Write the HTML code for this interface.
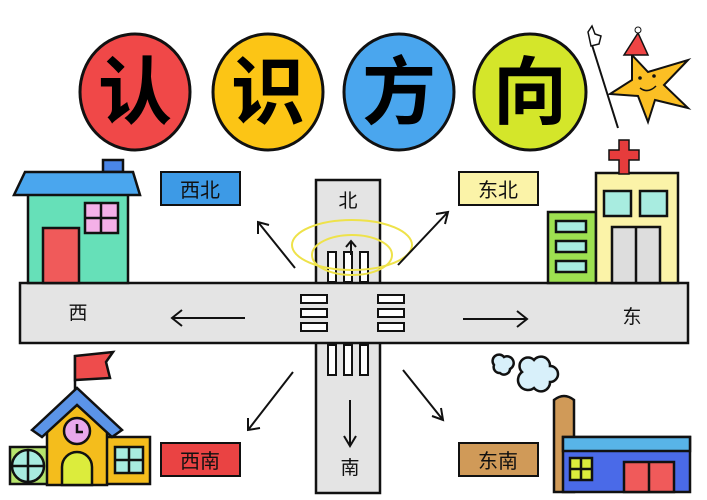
<!DOCTYPE html>
<html><head><meta charset="utf-8"><style>
html,body{margin:0;padding:0;background:#fff}
svg{display:block}
text{font-family:"Liberation Sans","Noto Sans CJK SC",sans-serif}
</style></head><body>
<svg width="707" height="500" viewBox="0 0 707 500" xmlns="http://www.w3.org/2000/svg">
<g stroke="#111" stroke-width="3">
<ellipse cx="135" cy="92" rx="55" ry="58" fill="#f04848"/>
<ellipse cx="268" cy="92" rx="55" ry="58" fill="#fcc515"/>
<ellipse cx="399" cy="92" rx="55" ry="58" fill="#4aa6ee"/>
<ellipse cx="530" cy="92" rx="56" ry="58" fill="#d4e62a"/>
</g>
<g font-size="74" font-weight="bold" text-anchor="middle" fill="#000" style="font-family:'Noto Serif CJK SC','Noto Sans CJK SC',serif">
<text x="135" y="118">认</text><text x="268" y="118">识</text><text x="399" y="118">方</text><text x="530" y="118">向</text>
</g>
<!-- star -->
<line x1="592" y1="45" x2="618" y2="128" stroke="#111" stroke-width="2"/>
<path d="M588 32 l4 -6 l3 8 l6 2 l-2 8 l-8 2 z" fill="#fff" stroke="#111" stroke-width="1.5"/>
<path d="M632 55 L648 72 L688 60 L664 85 L688 108 L655 100 L648 122 L638 96 L610 94 L632 80 Z" fill="#fbbf24" stroke="#111" stroke-width="2"/>
<path d="M624 55 L638 33 L648 55 Z" fill="#ef4444" stroke="#111" stroke-width="1.5"/>
<circle cx="638" cy="30" r="3" fill="#fff" stroke="#111"/>
<circle cx="640" cy="78" r="1.8" fill="#111"/><circle cx="654" cy="76" r="1.8" fill="#111"/>
<path d="M640 88 q8 6 16 -2" fill="none" stroke="#111" stroke-width="1.5"/>
<!-- roads -->
<rect x="316" y="180" width="64" height="313" fill="#e4e4e4" stroke="#111" stroke-width="2.5"/>
<rect x="20" y="283" width="668" height="60" fill="#e4e4e4" stroke="#111" stroke-width="2.5"/>
<rect x="317.5" y="284.5" width="61" height="57" fill="#e4e4e4"/>
<g fill="#fff" stroke="#111" stroke-width="2">
<rect x="301" y="295" width="26" height="8"/><rect x="301" y="309" width="26" height="8"/><rect x="301" y="323" width="26" height="8"/>
<rect x="378" y="295" width="26" height="8"/><rect x="378" y="309" width="26" height="8"/><rect x="378" y="323" width="26" height="8"/>
<rect x="328" y="345" width="8" height="30"/><rect x="344" y="345" width="8" height="30"/><rect x="360" y="345" width="8" height="30"/>
<rect x="328" y="252" width="8" height="30"/><rect x="344" y="252" width="8" height="30"/><rect x="360" y="252" width="8" height="30"/>
</g>
<g fill="none" stroke="#eee24a" stroke-width="2">
<ellipse cx="352" cy="245" rx="60" ry="25"/><ellipse cx="352" cy="255" rx="40" ry="20"/>
</g>
<g font-size="19" fill="#111" text-anchor="middle">
<text x="78" y="319">西</text><text x="632" y="323">东</text><text x="348" y="207">北</text><text x="350" y="474">南</text>
</g>
<g stroke="#111" stroke-width="2" fill="none">
<path d="M245 318 H172 M182 310 L172 318 L182 326"/>
<path d="M463 319 H527 M517 311 L527 319 L517 327"/>
<path d="M351 255 V242 M346 247 L351 241 L356 247"/>
<path d="M350 400 V445 M344 436 L350 446 L356 436"/>
<path d="M295 268 L258 222 M258 234 L258 222 L269 225"/>
<path d="M398 265 L448 212 M436 214 L448 212 L445 224"/>
<path d="M293 372 L248 430 M248 418 L248 430 L260 428"/>
<path d="M403 370 L443 420 M441 408 L443 420 L432 416"/>
</g>
<!-- labels -->
<g stroke="#111" stroke-width="2">
<rect x="161" y="172" width="79" height="33" fill="#3d9ae6"/>
<rect x="459" y="172" width="79" height="33" fill="#fbf3a8"/>
<rect x="161" y="443" width="79" height="33" fill="#ea4343"/>
<rect x="459" y="443" width="79" height="33" fill="#d09a58"/>
</g>
<g font-size="20" fill="#111" text-anchor="middle">
<text x="200" y="197">西北</text><text x="498" y="197">东北</text><text x="200" y="468">西南</text><text x="498" y="468">东南</text>
</g>
<!-- left house -->
<g stroke="#111" stroke-width="2.5">
<rect x="103" y="160" width="20" height="12" fill="#4a86e8"/>
<rect x="28" y="193" width="100" height="90" fill="#66e0b8"/>
<path d="M25 172 H133 L140 195 H14 Z" fill="#4aa6ee"/>
<rect x="43" y="228" width="36" height="55" fill="#f05a5a"/>
<rect x="85" y="203" width="33" height="30" fill="#f4b0e8"/>
<path d="M101 203 V233 M85 218 H118"/>
</g>
<!-- right buildings -->
<g stroke="#111" stroke-width="2.5">
<rect x="548" y="212" width="48" height="71" fill="#9ee050"/>
<rect x="596" y="173" width="82" height="110" fill="#fbf3a8"/>
<path d="M619 140 h10 v10 h10 v10 h-10 v14 h-10 v-14 h-10 v-10 h10 z" fill="#e63c3c" stroke-width="1.5"/>
<rect x="604" y="191" width="27" height="25" fill="#a8ece0"/><rect x="640" y="191" width="27" height="25" fill="#a8ece0"/>
<rect x="612" y="227" width="48" height="56" fill="#ddd"/><line x1="636" y1="227" x2="636" y2="283"/>
<rect x="556" y="221" width="30" height="11" fill="#a8ece0"/><rect x="556" y="241" width="30" height="11" fill="#a8ece0"/><rect x="556" y="261" width="30" height="11" fill="#a8ece0"/>
</g>
<!-- school -->
<g stroke="#111" stroke-width="2.5">
<line x1="75" y1="355" x2="75" y2="390"/>
<path d="M75 356 L113 352 L106 362 L110 378 L75 380 Z" fill="#ee4c4c"/>
<rect x="10" y="447" width="40" height="37" fill="#b6e46c"/>
<rect x="106" y="437" width="44" height="47" fill="#f4bd1c"/>
<path d="M47 430 L77 405 L107 430 V485 H47 Z" fill="#f4bd1c"/>
<path d="M32 430 L77 388 L122 430 L112 437 L77 405 L42 437 Z" fill="#5b94e8"/>
<circle cx="77" cy="431" r="13" fill="#e8a8ec"/>
<path d="M77 424 V432 H83" fill="none"/>
<path d="M62 485 V467 a15 15 0 0 1 30 0 V485 Z" fill="#dcec3c"/>
<circle cx="28" cy="466" r="16" fill="#a8ece0"/><path d="M12 466 H44 M28 450 V482" fill="none"/>
<rect x="115" y="447" width="28" height="26" fill="#a8ece0"/><path d="M129 447 V473 M115 460 H143" fill="none"/>
</g>
<!-- factory -->
<g stroke="#111" stroke-width="2.5">
<path d="M494 365 a6 6 0 0 1 10 -8 a6 6 0 0 1 6 12 a6 6 0 0 1 -10 4 a6 6 0 0 1 -6 -8z" fill="#d8f0fa"/>
<path d="M522 372 a8 8 0 0 1 12 -12 a9 9 0 0 1 16 6 a8 8 0 0 1 0 16 a9 9 0 0 1 -16 6 a8 8 0 0 1 -12 -16z" fill="#d8f0fa"/>
<path d="M554 492 V400 q10 -8 20 0 V492 Z" fill="#d09a58"/>
<rect x="563" y="437" width="127" height="55" fill="#4a6ae8"/>
<rect x="563" y="437" width="127" height="14" fill="#58b4e8"/>
<rect x="570" y="458" width="22" height="22" fill="#dcec3c"/><path d="M581 458 V480 M570 469 H592" fill="none"/>
<rect x="624" y="462" width="50" height="30" fill="#f05a5a"/><line x1="649" y1="462" x2="649" y2="492"/>
</g>
</svg>
</body></html>
